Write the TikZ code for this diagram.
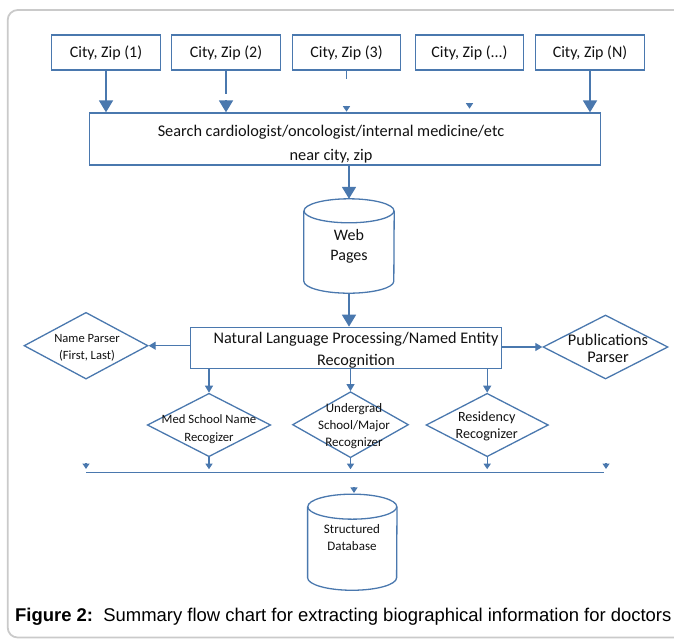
\documentclass[tikz,border=0pt]{standalone}
\usepackage{fontspec}
\setmainfont{Carlito}
\newfontfamily\capfont{Liberation Sans}
\usepackage{tikz}
\usetikzlibrary{
  positioning, arrows.meta, shapes.geometric, calc,
}
\definecolor{cFlow} {HTML}{4A78AE}
\definecolor{cFrame}{HTML}{CACACA}
\definecolor{cText} {HTML}{111111}

\tikzset{
  zipbox/.style={draw=cFlow, line width=1.3pt, minimum width=108.5pt, minimum height=35pt,
                 inner sep=0pt, text=cText, font=\fontsize{16}{18}\selectfont},
  stagebox/.style={draw=cFlow, line width=1.3pt, inner sep=0pt},
  decide/.style={diamond, draw=cFlow, line width=1.3pt, inner sep=0pt},
  drum/.style={inner sep=0pt},
  drumline/.style={draw=cFlow, line width=1.3pt},
  flowline/.style={draw=cFlow, line width=1.8pt},
  flowbig/.style={draw=cFlow, line width=1.8pt, -{Triangle[length=12pt, width=14pt]}},
  flowsmall/.style={draw=cFlow, line width=1.2pt, -{Triangle[length=7pt, width=8pt]}},
  flowtiny/.style={draw=cFlow, line width=1.2pt, -{Triangle[length=5.5pt, width=7pt]}},
  lbl/.style={anchor=base, align=center, text=cText, inner sep=0pt},
}

\begin{document}
\begin{tikzpicture}[x=1pt, y=-1pt]
  \useasboundingbox (0,0) rectangle (674,641);
  % page frame, open to the right
  \draw[cFrame, line width=1.8pt, rounded corners=10pt] (690,10) -- (7.7,10) -- (7.7,637.5) -- (690,637.5);

  % city / zip inputs at top
  \foreach \i/\xc/\tag in {1/106/1, 2/226/2, 3/346.5/3, 4/469.5/{...}, 5/590/N}{
    \node[zipbox] (zip\i) at (\xc, 52.5) {City, Zip (\tag)};
  }
  % search step (text baselines are set on the last line)
  \node[stagebox, minimum width=511pt, minimum height=52pt] (srch) at (344.8, 139) {};
  \node[lbl, font=\fontsize{16.3}{23.5}\selectfont] (srchtxt) at (331, 160.2)
        {Search cardiologist/oncologist/internal medicine/etc\\near city, zip};
  \draw[flowbig] (zip1.south) -- (zip1.south |- srch.north);
  \draw[flowline] (zip2.south) -- ++(0,23);
  \draw[flowbig] ($(zip2.south |- srch.north)+(0,-12)$) -- (zip2.south |- srch.north);
  \draw[flowline, line width=1.2pt] (zip3.south) -- ++(0,8);
  \draw[flowtiny] ($(zip3.south)+(0,35)$) -- ($(zip3.south)+(0,41)$);
  \draw[flowtiny] ($(zip4.south)+(0,32)$) -- ($(zip4.south)+(0,38)$);
  \draw[flowbig] (zip5.south) -- (zip5.south |- srch.north);

  % web pages store
  \node[drum, minimum width=90pt, minimum height=94pt] (web) at (349, 246) {};
  \draw[drumline] ($(web.north west)+(0,12)$) -- ($(web.south west)+(0,-12)$)
        arc[start angle=180, end angle=0, x radius=45, y radius=12] -- ($(web.north east)+(0,12)$);
  \draw[drumline] ($(web.north)+(0,12)$) ellipse [x radius=45, y radius=12];
  \node[lbl, font=\fontsize{16}{19.5}\selectfont] (webtxt) at (349, 260.2) {Web\\Pages};
  \draw[flowbig] (web.north |- srch.south) -- (web.north);

  % NLP / NER step
  \node[stagebox, minimum width=311pt, minimum height=41pt] (nlp) at (346.1, 347.8) {};
  \node[lbl, font=\fontsize{16.2}{21.7}\selectfont] (nlptxt) at (356, 365)
        {Natural Language Processing/Named Entity\\Recognition};
  \draw[flowbig] (web.south) -- (web.south |- nlp.north);

  % side parsers
  \node[decide, minimum width=124pt, minimum height=66.7pt] (namep) at (86, 345.7) {};
  \node[lbl, font=\fontsize{12.6}{16.7}\selectfont] (nametxt) at (87, 359) {Name Parser\\(First, Last)};
  \node[decide, minimum width=125pt, minimum height=64pt] (pubp) at (605.5, 347) {};
  \node[lbl, font=\fontsize{16.3}{17}\selectfont] (pubtxt) at (608, 362) {Publications\\Parser};
  \draw[flowsmall] (nlp.west |- namep.east) -- (namep.east);
  \draw[flowsmall] (nlp.east |- pubp.west) -- (pubp.west);

  % recognizers row
  \node[decide, minimum width=123.4pt, minimum height=63.4pt] (med) at (209, 425) {};
  \node[lbl, font=\fontsize{12.7}{18}\selectfont] (medtxt) at (209, 441.3) {Med School Name\\Recogizer};
  \node[decide, minimum width=116pt, minimum height=66pt] (ugrad) at (350.5, 424.7) {};
  \node[lbl, font=\fontsize{13}{16.9}\selectfont] (ugradtxt) at (354, 446) {Undergrad\\School/Major\\Recognizer};
  \node[decide, minimum width=122.3pt, minimum height=63.4pt] (resid) at (487.2, 425) {};
  \node[lbl, font=\fontsize{14.1}{16.6}\selectfont] (residtxt) at (486.7, 438.3) {Residency\\Recognizer};
  \foreach \n in {med, ugrad, resid}{
    \draw[flowsmall] (\n.north |- nlp.south) -- (\n.north);
  }

  % merge line
  \coordinate (busL) at (86, 472.7);
  \coordinate (busR) at (604, 472.7);
  \draw[cFlow, line width=1.3pt] (busL) -- (busR);
  \foreach \n in {med, ugrad, resid}{
    \draw[flowtiny, shorten >=3.5pt] (\n.south) -- (\n.south |- busL);
  }
  \draw[flowtiny] ($(busL)+(0,-9.5)$) -- ($(busL)+(0,-3.7)$);
  \draw[flowtiny] ($(busR)+(2,-9.5)$) -- ($(busR)+(2,-3.7)$);

  % structured database
  \node[drum, minimum width=89pt, minimum height=95.7pt] (db) at (352.3, 542.2) {};
  \draw[drumline] ($(db.north west)+(0,12.5)$) -- ($(db.south west)+(0,-12.5)$)
        arc[start angle=180, end angle=0, x radius=44.5, y radius=12.5] -- ($(db.north east)+(0,12.5)$);
  \draw[drumline] ($(db.north)+(0,12.5)$) ellipse [x radius=44.5, y radius=12.5];
  \node[lbl, font=\fontsize{13}{17}\selectfont] (dbtxt) at (352, 550) {Structured\\Database};
  \draw[flowtiny] ($(db.north)+(1.7,-7)$) -- ($(db.north)+(1.7,-1.2)$);

  % caption
  \node[anchor=base west, inner sep=0pt, font=\capfont\fontsize{18.45}{21}\selectfont] (cap) at (15, 621.5)
        {\textbf{Figure 2:}\ \ Summary flow chart for extracting biographical information for doctors};
\end{tikzpicture}
\end{document}
